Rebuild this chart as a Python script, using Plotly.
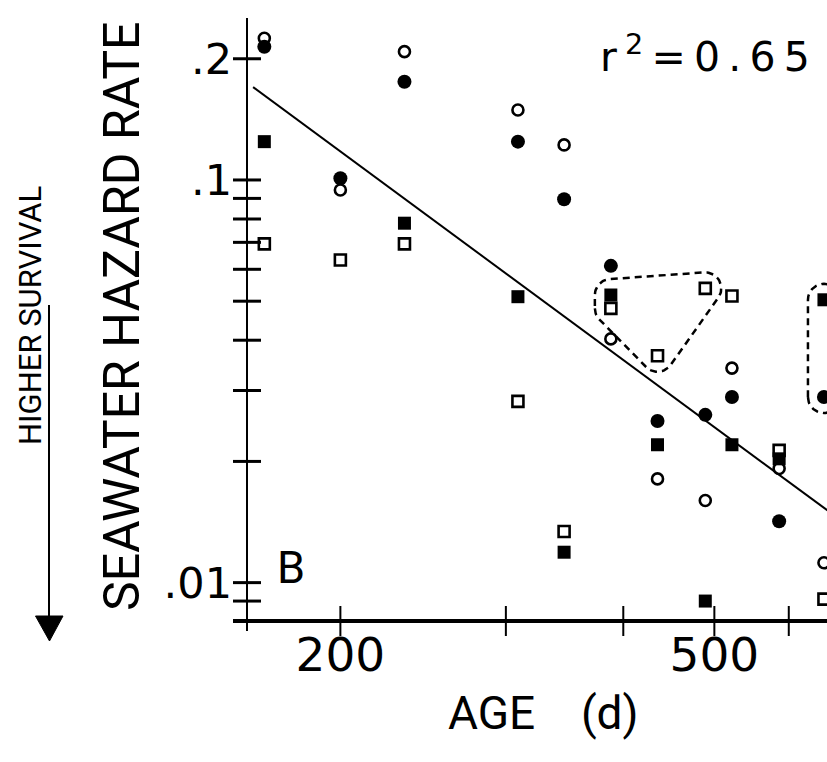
import numpy as np
import plotly.graph_objects as go

# ---- data -------------------------------------------------------------
# Age of each group (days)
ages = [166, 200, 234, 309, 346, 388, 435, 489, 522, 586, 654]

# Seawater hazard rate, one list per marker style (None = no point)
rate_solid_circle = [0.2143, 0.101, 0.1754, 0.1245, 0.0896, 0.0612, 0.0252, 0.0261, 0.0289, 0.0142, 0.0289]
rate_open_circle = [0.2249, 0.0944, 0.2083, 0.1492, 0.1222, 0.0403, 0.0181, 0.0160, 0.0341, 0.0192, 0.0112]
rate_solid_square = [0.1245, None, 0.0781, 0.0513, 0.0119, 0.0518, 0.0220, 0.0090, 0.0220, 0.0203, 0.0504]
rate_open_square = [0.0694, 0.0633, 0.0694, 0.0282, 0.0134, 0.0480, 0.0366, 0.0538, 0.0515, 0.0213, 0.0091]

# log-log regression line (end points)
fit_age = [161.5, 660]
fit_rate = [0.170, 0.0151]
r_squared = "0.65"

# points enclosed by dashed outlines: (series, age index)
outline_groups = [
    [("solid_square", 5), ("open_square", 5), ("open_square", 6), ("open_square", 7)],
    [("solid_square", 10), ("solid_circle", 10)],
]

# tick marks and the subset that carries labels
x_tick_marks = [200, 300, 400, 500, 600]
x_label_vals = [200, 500]
x_label_text = ["200", "500"]
y_tick_marks = [0.009, 0.01, 0.02, 0.03, 0.04, 0.05, 0.06, 0.07, 0.08, 0.09, 0.1, 0.2]
y_label_vals = [0.01, 0.1, 0.2]
y_label_text = [".01", ".1", ".2"]

# ---- layout constants -------------------------------------------------
W, H = 827, 762
ML, MR, MT, MB = 247, 0, 18, 141
PW, PH = W - ML - MR, H - MT - MB
AGE_MIN, AGE_MAX = 159.1, 658.9
RATE_MIN, RATE_MAX = 0.00803, 0.2525
xr = [np.log10(AGE_MIN), np.log10(AGE_MAX)]
yr = [np.log10(RATE_MIN), np.log10(RATE_MAX)]
KX = PW / (xr[1] - xr[0])  # pixels per decade
KY = PH / (yr[1] - yr[0])

NUM_FONT = "DejaVu Sans"
TXT_FONT = "Roboto, Liberation Sans, sans-serif"

series = {
    "solid_circle": rate_solid_circle,
    "open_circle": rate_open_circle,
    "solid_square": rate_solid_square,
    "open_square": rate_open_square,
}
styles = {
    "solid_circle": dict(symbol="circle", size=14, color="black", line=dict(width=0)),
    "open_circle": dict(symbol="circle-open", size=11, color="black", line=dict(width=2.6, color="black")),
    "solid_square": dict(symbol="square", size=13, color="black", line=dict(width=0)),
    "open_square": dict(symbol="square-open", size=11, color="black", line=dict(width=2.6, color="black")),
}


def px_to_paper(px, py):
    return (px - ML) / PW, (H - MB - py) / PH


def convex_hull(points):
    pts = sorted(set(points))
    if len(pts) < 3:
        return pts

    def cross(o, a, b):
        return (a[0] - o[0]) * (b[1] - o[1]) - (a[1] - o[1]) * (b[0] - o[0])

    lower, upper = [], []
    for p in pts:
        while len(lower) >= 2 and cross(lower[-2], lower[-1], p) <= 0:
            lower.pop()
        lower.append(p)
    for p in reversed(pts):
        while len(upper) >= 2 and cross(upper[-2], upper[-1], p) <= 0:
            upper.pop()
        upper.append(p)
    return lower[:-1] + upper[:-1]


def rounded_outline(members, radius=16):
    """Rounded hull around a group of points, computed in screen space."""
    pts = []
    for name, i in members:
        lx, ly = np.log10(ages[i]) * KX, np.log10(series[name][i]) * KY
        for t in np.linspace(0, 2 * np.pi, 60, endpoint=False):
            pts.append((round(lx + radius * np.cos(t), 4), round(ly + radius * np.sin(t), 4)))
    hull = convex_hull(pts)
    hull.append(hull[0])
    return [10 ** (p[0] / KX) for p in hull], [10 ** (p[1] / KY) for p in hull]


fig = go.Figure()

# regression line
fig.add_trace(go.Scatter(x=fit_age, y=fit_rate, mode="lines",
                         line=dict(color="black", width=2), hoverinfo="skip"))

# dashed outlines around grouped points
for grp in outline_groups:
    ox, oy = rounded_outline(grp)
    fig.add_trace(go.Scatter(x=ox, y=oy, mode="lines",
                             line=dict(color="black", width=2.5, dash="7px,5px"),
                             hoverinfo="skip"))

# data points
for name in ["open_square", "solid_square", "solid_circle", "open_circle"]:
    fig.add_trace(go.Scatter(x=ages, y=series[name], mode="markers",
                             marker=styles[name], name=name))

shapes = []
# axis lines (slightly extended past the corner)
shapes.append(dict(type="line", xref="paper", yref="paper", xsizemode="pixel", xanchor=0,
                   x0=-14, x1=PW + 10, y0=0, y1=0, line=dict(color="black", width=4)))
shapes.append(dict(type="line", xref="paper", yref="paper", ysizemode="pixel", yanchor=0,
                   x0=0, x1=0, y0=-10, y1=PH, line=dict(color="black", width=2)))
# tick marks crossing the axis lines
for v in x_tick_marks:
    shapes.append(dict(type="line", xref="x", x0=v, x1=v, yref="paper", ysizemode="pixel",
                       yanchor=0, y0=-15, y1=15, line=dict(color="black", width=2)))
for v in y_tick_marks:
    shapes.append(dict(type="line", yref="y", y0=v, y1=v, xref="paper", xsizemode="pixel",
                       xanchor=0, x0=-14, x1=14, line=dict(color="black", width=3)))

# "higher survival" arrow
ax0, ay0 = px_to_paper(49, 305)
ax1, ay1 = px_to_paper(49, 620)
shapes.append(dict(type="line", xref="paper", yref="paper", x0=ax0, y0=ay0, x1=ax1, y1=ay1,
                   line=dict(color="black", width=2)))
tl = px_to_paper(35.5, 616)
tr = px_to_paper(63, 616)
tip = px_to_paper(49.5, 641)
shapes.append(dict(type="path", xref="paper", yref="paper",
                   path=f"M {tl[0]},{tl[1]} L {tr[0]},{tr[1]} L {tip[0]},{tip[1]} Z",
                   fillcolor="black", line=dict(color="black", width=1)))

annotations = []
tx, ty = px_to_paper(122, 317)
annotations.append(dict(text="SEAWATER HAZARD RATE", x=tx, y=ty, xref="paper", yref="paper",
                        textangle=-90, showarrow=False, xanchor="center", yanchor="middle",
                        font=dict(family=TXT_FONT, size=50, color="black")))
hx, hy = px_to_paper(30, 315)
annotations.append(dict(text="HIGHER SURVIVAL", x=hx, y=hy, xref="paper", yref="paper",
                        textangle=-90, showarrow=False, xanchor="center", yanchor="middle",
                        font=dict(family=TXT_FONT, size=31, color="black")))
gx, gy = px_to_paper(543, 713)
annotations.append(dict(text="AGE\u00a0\u00a0\u00a0\u00a0(d)", x=gx, y=gy, xref="paper", yref="paper",
                        showarrow=False, xanchor="center", yanchor="middle",
                        font=dict(family=TXT_FONT, size=46, color="black")))
bx, by = px_to_paper(291, 567)
annotations.append(dict(text="B", x=bx, y=by, xref="paper", yref="paper",
                        showarrow=False, xanchor="center", yanchor="middle",
                        font=dict(family=TXT_FONT, size=45, color="black")))
ts = "\u2009"
r_text = f"r{ts}<sup>2</sup>{ts}={ts}" + ts.join(r_squared)
rx, ry = px_to_paper(598, 83)
annotations.append(dict(text=r_text, x=rx, y=ry, xref="paper", yref="paper",
                        showarrow=False, xanchor="left", yanchor="bottom",
                        font=dict(family=NUM_FONT, size=41, color="black")))

fig.update_layout(
    width=W, height=H, margin=dict(l=ML, r=MR, t=MT, b=MB),
    plot_bgcolor="white", paper_bgcolor="white", showlegend=False,
    shapes=shapes, annotations=annotations,
)
fig.update_xaxes(type="log", range=xr, tickmode="array", tickvals=x_label_vals, ticktext=x_label_text,
                 ticks="", ticklabelstandoff=2,
                 showline=False, showgrid=False, zeroline=False,
                 tickfont=dict(family=NUM_FONT, size=47, color="black"))
fig.update_yaxes(type="log", range=yr, tickmode="array", tickvals=y_label_vals, ticktext=y_label_text,
                 ticks="", ticklabelstandoff=14,
                 showline=False, showgrid=False, zeroline=False,
                 tickfont=dict(family=NUM_FONT, size=43, color="black"))

fig.write_html("out.html")
